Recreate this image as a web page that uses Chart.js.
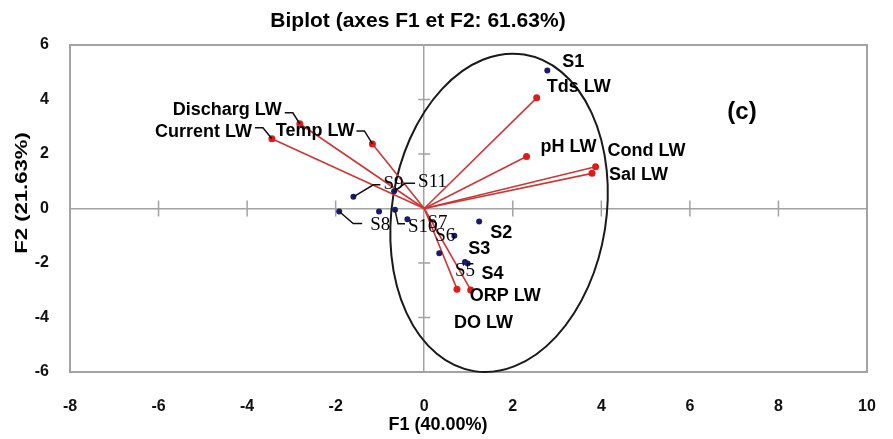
<!DOCTYPE html>
<html>
<head>
<meta charset="utf-8">
<script src="https://cdn.jsdelivr.net/npm/chart.js@4.4.1/dist/chart.umd.min.js"></script>
<style>
  html, body { margin: 0; padding: 0; background: #ffffff; }
  #wrap { width: 893px; height: 439px; position: relative; }
</style>
</head>
<body>
<div id="wrap"><canvas id="biplot" width="893" height="439"></canvas></div>
<script>
// Active variables: coordinates on F1 / F2
const variableNames = ['Tds LW', 'pH LW', 'Cond LW', 'Sal LW', 'Discharg LW', 'Current LW', 'Temp LW', 'ORP LW', 'DO LW'];
const variableF1 = [2.54, 2.31, 3.87, 3.79, -2.81, -3.44, -1.17, 1.05, 0.74];
const variableF2 = [4.06, 1.91, 1.53, 1.29, 3.11, 2.56, 2.37, -2.99, -2.96];

// Observations (sampling sites)
const siteNames = ['S1', 'S2', 'S3', 'S4', 'S5', 'S6', 'S7', 'S8', 'S9', 'S10', 'S11', 'S12'];
const siteF1 = [2.78, 1.24, 0.68, 0.98, 0.92, 0.34, -0.38, -1.92, -1.60, -0.66, -0.68, -1.02];
const siteF2 = [5.06, -0.48, -1.00, -2.02, -1.96, -1.64, -0.39, -0.11, 0.43, -0.05, 0.63, -0.11];

// Axis ticks
const f1Ticks = [-8, -6, -4, -2, 0, 2, 4, 6, 8, 10];
const f2Ticks = [-6, -4, -2, 0, 2, 4, 6];

// Group ellipse (F1/F2 units)
const ellipseCenter = [1.69, -0.16];
const ellipseRadii = [2.42, 5.88];
const ellipseTiltDeg = 9;

// Label placement (pixel offsets from the mark) and leader lines
const variableLabelLayout = [
  { dx: 10, dy: -11, align: 'left' },                                   // Tds
  { dx: 14, dy: -9, align: 'left' },                                    // pH
  { dx: 12, dy: -16, align: 'left' },                                   // Cond
  { dx: 17, dy: 2, align: 'left' },                                     // Sal
  { dx: -18, dy: -14, align: 'right', leader: [[-7, -11], [-15, -11]] }, // Discharg
  { dx: -20, dy: -7, align: 'right', leader: [[-9, -11], [-17, -11]] },  // Current
  { dx: -18, dy: -13, align: 'right', leader: [[-8, -13], [-16, -13]] }, // Temp
  { dx: -1, dy: 6, align: 'left' },                                     // ORP
  { dx: -3, dy: 34, align: 'left' }                                     // DO
];
const siteLabelLayout = [
  { dx: 15, dy: -9, face: 'sans' },                                  // S1
  { dx: 11, dy: 11, face: 'sans' },                                  // S2
  { dx: 14, dy: 13, face: 'sans' },                                  // S3
  { dx: 14, dy: 10, face: 'sans' },                                  // S4
  { dx: -10, dy: 9, face: 'serif' },                                 // S5
  { dx: -4, dy: -17, face: 'serif' },                                // S6
  { dx: 20, dy: 4, face: 'serif' },                                  // S7
  { dx: 31, dy: 14, face: 'serif', leader: [[14, 12], [23, 12]] },   // S8
  { dx: 30, dy: -13, face: 'serif', leader: [[20, -12], [27, -12]] },// S9
  { dx: 13, dy: 17, face: 'serif', leader: [[3, 14], [10, 14]] },    // S10
  { dx: 24, dy: -9, face: 'serif', leader: [[11, -8], [21, -8]] },   // S11
  null                                                               // S12 (label hidden in the cluster)
];

const SANS = '"Liberation Sans", Arial, sans-serif';
const SERIF = '"Liberation Serif", "Times New Roman", serif';
const AXIS_GREY = '#a3a3a3';
const VECTOR_RED = 'rgb(205, 55, 55)';

const variablePoints = variableF1.map((v, i) => ({ x: v, y: variableF2[i] }));
const sitePoints = siteF1.map((v, i) => ({ x: v, y: siteF2[i] }));

function drawLeader(ctx, px, py, leader) {
  if (!leader) return;
  ctx.beginPath();
  ctx.moveTo(px, py);
  leader.forEach(([dx, dy]) => ctx.lineTo(px + dx, py + dy));
  ctx.stroke();
}

const biplotDecor = {
  id: 'biplotDecor',
  beforeDatasetsDraw(chart) {
    const { ctx, chartArea: a, scales: { x, y } } = chart;
    const x0 = x.getPixelForValue(0), y0 = y.getPixelForValue(0);
    ctx.save();

    // frame
    ctx.strokeStyle = AXIS_GREY;
    ctx.lineWidth = 2;
    ctx.strokeRect(a.left, a.top, a.right - a.left, a.bottom - a.top);

    // tick marks across the zero lines
    ctx.lineWidth = 1.5;
    ctx.beginPath();
    x.ticks.forEach(t => {
      if (t.value === 0 || t.value === x.min || t.value === x.max) return;
      const px = x.getPixelForValue(t.value);
      ctx.moveTo(px, y0 - 8); ctx.lineTo(px, y0 + 8);
    });
    y.ticks.forEach(t => {
      if (t.value === 0 || t.value === y.min || t.value === y.max) return;
      const py = y.getPixelForValue(t.value);
      ctx.moveTo(x0 - 6, py); ctx.lineTo(x0 + 6, py);
    });
    ctx.stroke();

    // group ellipse
    const cx = x.getPixelForValue(ellipseCenter[0]);
    const cy = y.getPixelForValue(ellipseCenter[1]);
    const rx = x.getPixelForValue(ellipseCenter[0] + ellipseRadii[0]) - cx;
    const ry = cy - y.getPixelForValue(ellipseCenter[1] + ellipseRadii[1]);
    ctx.strokeStyle = '#1a1a1a';
    ctx.lineWidth = 2;
    ctx.beginPath();
    ctx.ellipse(cx, cy, rx, ry, ellipseTiltDeg * Math.PI / 180, 0, Math.PI * 2);
    ctx.stroke();

    // variable vectors from the origin
    ctx.strokeStyle = VECTOR_RED;
    ctx.lineWidth = 1.6;
    variablePoints.forEach(p => {
      ctx.beginPath();
      ctx.moveTo(x0, y0);
      ctx.lineTo(x.getPixelForValue(p.x), y.getPixelForValue(p.y));
      ctx.stroke();
    });
    ctx.restore();
  },
  afterDatasetsDraw(chart) {
    const { ctx, scales: { x, y } } = chart;
    ctx.save();
    ctx.fillStyle = '#000';
    ctx.strokeStyle = '#111';
    ctx.lineWidth = 1.5;
    ctx.textBaseline = 'middle';

    // variable labels
    ctx.font = 'bold 18px ' + SANS;
    variableNames.forEach((name, i) => {
      const L = variableLabelLayout[i];
      const px = x.getPixelForValue(variableF1[i]);
      const py = y.getPixelForValue(variableF2[i]);
      drawLeader(ctx, px, py, L.leader);
      ctx.textAlign = L.align;
      ctx.fillText(name, px + L.dx, py + L.dy);
    });

    // site labels
    siteNames.forEach((name, i) => {
      const L = siteLabelLayout[i];
      if (!L) return;
      const px = x.getPixelForValue(siteF1[i]);
      const py = y.getPixelForValue(siteF2[i]);
      drawLeader(ctx, px, py, L.leader);
      ctx.font = L.face === 'serif' ? '19px ' + SERIF : 'bold 18px ' + SANS;
      ctx.textAlign = 'left';
      ctx.fillText(name, px + L.dx, py + L.dy);
    });
    ctx.restore();
  },
  afterDraw(chart) {
    const { ctx } = chart;
    ctx.save();
    ctx.fillStyle = '#000';
    ctx.textAlign = 'center';
    ctx.textBaseline = 'middle';

    ctx.font = 'bold 21px ' + SANS;
    ctx.fillText('Biplot (axes F1 et F2: 61.63%)', 418, 21);

    ctx.font = 'bold 18px ' + SANS;
    ctx.fillText('F1 (40.00%)', 438, 425);

    ctx.font = 'bold 24px ' + SANS;
    ctx.fillText('(c)', 742, 112);

    ctx.translate(22, 193);
    ctx.rotate(-Math.PI / 2);
    ctx.scale(1.3, 1);
    ctx.font = 'bold 17px ' + SANS;
    ctx.fillText('F2 (21.63%)', 0, 0);
    ctx.restore();
  }
};

const zeroLine = c => (c.tick && c.tick.value === 0 ? AXIS_GREY : 'rgba(0,0,0,0)');

new Chart(document.getElementById('biplot'), {
  type: 'scatter',
  data: {
    datasets: [
      {
        label: 'Variables',
        data: variablePoints,
        pointRadius: 3.5,
        pointBackgroundColor: '#e01b1b',
        pointBorderWidth: 0
      },
      {
        label: 'Sites',
        data: sitePoints,
        pointRadius: 3,
        pointBackgroundColor: '#1b1b6b',
        pointBorderWidth: 0
      }
    ]
  },
  options: {
    responsive: false,
    animation: false,
    devicePixelRatio: 1,
    layout: { padding: { left: 0, top: 45, right: 26, bottom: 0 } },
    plugins: { legend: { display: false }, tooltip: { enabled: false }, title: { display: false } },
    scales: {
      x: {
        type: 'linear',
        min: f1Ticks[0],
        max: f1Ticks[f1Ticks.length - 1],
        afterBuildTicks: s => { s.ticks = f1Ticks.map(v => ({ value: v })); },
        afterFit: s => { s.height = 67; s.paddingLeft = 0; s.paddingRight = 0; },
        border: { display: false },
        grid: { color: zeroLine, lineWidth: 1.5, drawTicks: false },
        ticks: { padding: 25, color: '#111', font: { family: SANS, size: 16, weight: 'bold' } }
      },
      y: {
        type: 'linear',
        min: f2Ticks[0],
        max: f2Ticks[f2Ticks.length - 1],
        afterBuildTicks: s => { s.ticks = f2Ticks.map(v => ({ value: v })); },
        afterFit: s => { s.width = 70; s.paddingTop = 0; s.paddingBottom = 0; },
        border: { display: false },
        grid: { color: zeroLine, lineWidth: 1.5, drawTicks: false },
        ticks: { padding: 21, color: '#111', font: { family: SANS, size: 16, weight: 'bold' } }
      }
    }
  },
  plugins: [biplotDecor]
});
</script>
</body>
</html>
